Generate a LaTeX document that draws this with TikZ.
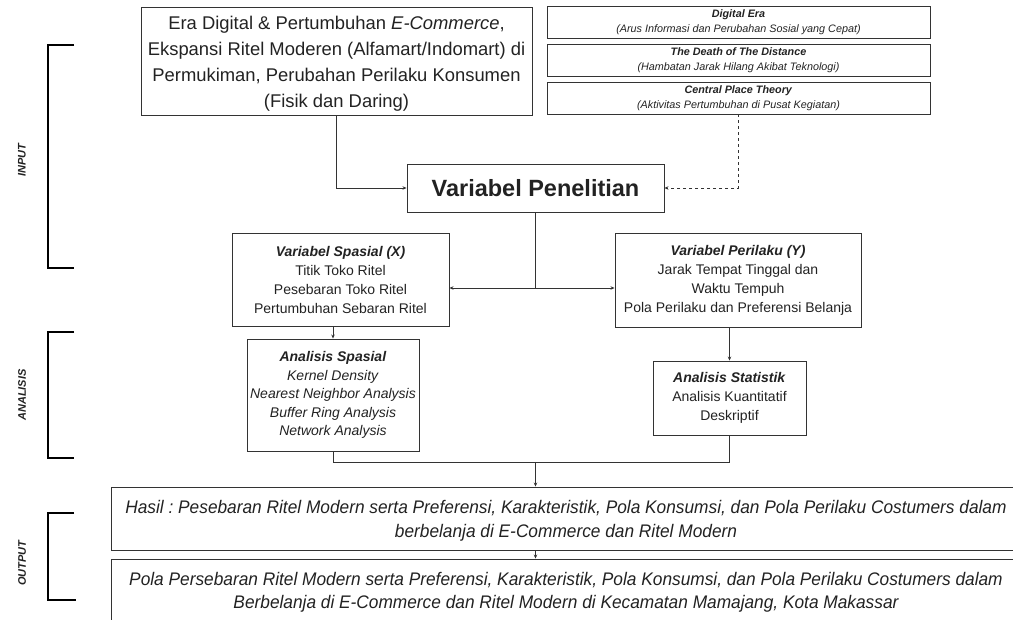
\documentclass[tikz,border=0pt]{standalone}
\usepackage{fontspec}
\setmainfont{Liberation Sans}
\newfontfamily\narrowit[FakeStretch=0.95]{Liberation Sans}
\usetikzlibrary{arrows.meta}
\definecolor{ink}{HTML}{222222}
\definecolor{edge}{HTML}{333333}
\tikzset{
  box/.style={draw=edge, line width=0.9pt, align=center, text=ink, inner sep=0pt},
  txt/.style={align=center, text=ink, inner sep=0pt},
  arr/.style={draw=edge, line width=0.9pt, -{Stealth[length=4pt,width=3.5pt]}},
  lin/.style={draw=edge, line width=0.9pt},
  brk/.style={draw=black, line width=2.6pt},
  side/.style={rotate=90, font=\fontsize{11}{13}\selectfont\bfseries\itshape, text=ink},
}
\begin{document}
\frenchspacing
\begin{tikzpicture}[x=1pt,y=-1pt]
\useasboundingbox (0,0) rectangle (1013,620);
% boxes
\node[box, minimum width=391pt, minimum height=108pt] (top) at (336.5,61) {};
\node[txt, font=\fontsize{18.4}{26}\selectfont] (topt) at (336.5,63.5)
  {Era Digital \& Pertumbuhan \textit{E-Commerce},\\ Ekspansi Ritel Moderen (Alfamart/Indomart) di\\ Permukiman, Perubahan Perilaku Konsumen\\ (Fisik dan Daring)};
\node[box, minimum width=383pt, minimum height=32pt, font=\fontsize{10.8}{15}\selectfont] (d1) at (738.5,22)
  {\textbf{\textit{Digital Era}}\\ \textit{(Arus Informasi dan Perubahan Sosial yang Cepat)}};
\node[box, minimum width=383pt, minimum height=32pt, font=\fontsize{10.8}{15}\selectfont] (d2) at (738.5,60)
  {\textbf{\textit{The Death of The Distance}}\\ \textit{(Hambatan Jarak Hilang Akibat Teknologi)}};
\node[box, minimum width=383pt, minimum height=32pt, font=\fontsize{10.8}{15}\selectfont] (d3) at (738.5,98)
  {\textbf{\textit{Central Place Theory}}\\ \textit{(Aktivitas Pertumbuhan di Pusat Kegiatan)}};
\node[box, minimum width=257pt, minimum height=48pt, font=\fontsize{23.5}{26}\selectfont\bfseries] (var) at (535.5,188)
  {Variabel Penelitian};
\node[box, minimum width=217pt, minimum height=93pt, font=\fontsize{14}{19}\selectfont] (spx) at (340.5,279.5)
  {\textbf{\textit{Variabel Spasial (X)}}\\ Titik Toko Ritel\\ Pesebaran Toko Ritel\\ Pertumbuhan Sebaran Ritel};
\node[box, minimum width=172pt, minimum height=112pt, font=\fontsize{14}{18.5}\selectfont] (spa) at (333,395)
  {\textbf{\textit{Analisis Spasial}}\\ \textit{Kernel Density}\\ \textit{Nearest Neighbor Analysis}\\ \textit{Buffer Ring Analysis}\\ \textit{Network Analysis}};
\node[box, minimum width=246pt, minimum height=94pt, font=\fontsize{14}{19}\selectfont] (pry) at (738,280)
  {\textbf{\textit{Variabel Perilaku (Y)}}\\ Jarak Tempat Tinggal dan\\ Waktu Tempuh\\ Pola Perilaku dan Preferensi Belanja};
\node[box, minimum width=153pt, minimum height=74pt, font=\fontsize{14}{19}\selectfont] (sta) at (729.5,398)
  {\textbf{\textit{Analisis Statistik}}\\ Analisis Kuantitatif\\ Deskriptif};
\node[box, minimum width=910pt, minimum height=63pt] (hasil) at (566,518.5) {};
\node[txt, font=\fontsize{18.2}{24}\selectfont\narrowit\itshape] (hasilt) at (566,521)
  {Hasil : Pesebaran Ritel Modern serta Preferensi, Karakteristik, Pola Konsumsi, dan Pola Perilaku Costumers dalam\\ berbelanja di E-Commerce dan Ritel Modern};
\node[box, minimum width=910pt, minimum height=64pt] (out) at (566,591) {};
\node[txt, font=\fontsize{18.2}{23}\selectfont\narrowit\itshape] (outt) at (566,592.5)
  {Pola Persebaran Ritel Modern serta Preferensi, Karakteristik, Pola Konsumsi, dan Pola Perilaku Costumers dalam\\ Berbelanja di E-Commerce dan Ritel Modern di Kecamatan Mamajang, Kota Makassar};
% connectors
\draw[arr] (top.south) |- (var.west);
\draw[arr, dashed] (d3.south) |- (var.east);
\coordinate (j) at (535.5,288);
\draw[lin] (var.south) -- (j);
\draw[arr] (j) -- (j -| spx.east);
\draw[arr] (j) -- (j -| pry.west);
\draw[arr] (spa.north |- spx.south) -- (spa.north);
\draw[arr] (sta.north |- pry.south) -- (sta.north);
\coordinate (m) at (535.5,462);
\draw[lin] (spa.south) |- (m);
\draw[lin] (sta.south) |- (m);
\draw[arr] (m) -- (m |- hasil.north);
\draw[arr] (m |- hasil.south) -- (m |- out.north);
% brackets
\coordinate (b1a) at (74,45); \coordinate (b1b) at (74,268);
\coordinate (b2a) at (74,332); \coordinate (b2b) at (74,458);
\coordinate (b3a) at (74,513); \coordinate (b3b) at (76,600);
\draw[brk] (b1a) -- (48,45) -- (48,268) -- (b1b);
\draw[brk] (b2a) -- (48,332) -- (48,458) -- (b2b);
\draw[brk] (b3a) -- (48,513) -- (48,600) -- (b3b);
\node[side] (lin) at (22,160) {INPUT};
\node[side] (lan) at (22,395) {ANALISIS};
\node[side] (lout) at (22,563) {OUTPUT};
\end{tikzpicture}
\end{document}
